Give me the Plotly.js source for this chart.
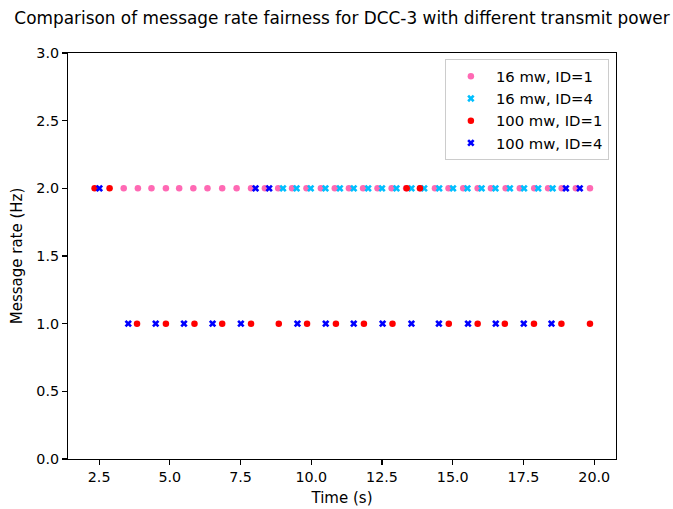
<!DOCTYPE html>
<html>
<head>
<meta charset="utf-8">
<script src="https://cdn.plot.ly/plotly-3.0.1.min.js"></script>
<style>html,body{margin:0;padding:0;background:#fff;}#chart{width:673px;height:509px;}</style>
</head>
<body>
<div id="chart"></div>
<script>
// 16 mw, ID=1 (time s, message rate Hz)
const p16id1Time = [3.37, 3.87, 4.35, 4.86, 5.33, 5.83, 6.33, 6.85, 7.36, 7.87, 8.36, 8.83, 9.32, 9.83, 10.34, 10.83, 11.33, 11.83, 12.34, 12.84, 13.35, 13.85, 14.37, 14.85, 15.37, 15.88, 16.35, 16.87, 17.37, 17.88, 18.37, 18.85, 19.35, 19.85];
const p16id1Rate = [2, 2, 2, 2, 2, 2, 2, 2, 2, 2, 2, 2, 2, 2, 2, 2, 2, 2, 2, 2, 2, 2, 2, 2, 2, 2, 2, 2, 2, 2, 2, 2, 2, 2];
// 16 mw, ID=4
const p16id4Time = [9.00, 9.48, 9.98, 10.50, 11.01, 11.50, 12.01, 12.50, 13.01, 13.54, 13.99, 14.52, 15.01, 15.52, 16.02, 16.51, 17.02, 17.52, 18.02, 18.53];
const p16id4Rate = [2, 2, 2, 2, 2, 2, 2, 2, 2, 2, 2, 2, 2, 2, 2, 2, 2, 2, 2, 2];
// 100 mw, ID=1
const p100id1Time = [2.34, 2.87, 3.84, 4.86, 5.87, 6.85, 7.87, 8.85, 9.85, 10.87, 11.86, 12.87, 13.37, 13.84, 14.86, 15.88, 16.84, 17.87, 18.84, 19.85];
const p100id1Rate = [2, 2, 1, 1, 1, 1, 1, 1, 1, 1, 1, 1, 2, 2, 1, 1, 1, 1, 1, 1];
// 100 mw, ID=4
const p100id4Time = [2.51, 3.53, 4.50, 5.50, 6.51, 7.51, 8.03, 8.51, 9.51, 10.51, 11.50, 12.52, 13.54, 14.51, 15.54, 16.52, 17.51, 18.49, 19.00, 19.49];
const p100id4Rate = [2, 1, 1, 1, 1, 1, 2, 2, 1, 1, 1, 1, 1, 1, 1, 1, 1, 1, 2, 2];

const seriesNames = ['16 mw, ID=1', '16 mw, ID=4', '100 mw, ID=1', '100 mw, ID=4'];
const xTicks = [2.5, 5.0, 7.5, 10.0, 12.5, 15.0, 17.5, 20.0];
const yTicks = [0.0, 0.5, 1.0, 1.5, 2.0, 2.5, 3.0];

const FONT = 'DejaVu Sans, sans-serif';
function mk(x, y, name, color, symbol, size) {
  return {x: x, y: y, name: name, type: 'scatter', mode: 'markers',
    marker: {color: color, symbol: symbol, size: size, line: {width: 0}}};
}
const data = [
  mk(p16id1Time, p16id1Rate, seriesNames[0], '#ff69b4', 'circle', 6.5),
  mk(p16id4Time, p16id4Rate, seriesNames[1], '#00bfff', 'x', 6.5),
  mk(p100id1Time, p100id1Rate, seriesNames[2], '#ff0000', 'circle', 6.5),
  mk(p100id4Time, p100id4Rate, seriesNames[3], '#0000ff', 'x', 6.5)
];
const axisCommon = {showline: true, mirror: true, linecolor: '#000', linewidth: 1.1,
  ticks: 'outside', ticklen: 5, tickwidth: 1.1, tickcolor: '#000', showgrid: false, zeroline: false,
  tickfont: {family: FONT, size: 14.3, color: '#000'}};
const layout = {
  width: 673, height: 509,
  margin: {l: 68, r: 57, t: 53, b: 50, pad: 0},
  paper_bgcolor: '#fff', plot_bgcolor: '#fff',
  font: {family: FONT, color: '#000'},
  title: {text: 'Comparison of message rate fairness for DCC-3 with different transmit power',
    font: {family: FONT, size: 16.9, color: '#000'}, xref: 'paper', x: 0.5, xanchor: 'center',
    yref: 'container', y: 1 - 18 / 509, yanchor: 'middle'},
  xaxis: Object.assign({}, axisCommon, {range: [1.40, 20.77], tickvals: xTicks, tickformat: '.1f',
    title: {text: 'Time (s)', font: {family: FONT, size: 15, color: '#000'}, standoff: 8}}),
  yaxis: Object.assign({}, axisCommon, {range: [0, 3], tickvals: yTicks, tickformat: '.1f',
    title: {text: 'Message rate (Hz)', font: {family: FONT, size: 15, color: '#000'}, standoff: 10}}),
  showlegend: true,
  legend: {x: 0.987, y: 0.985, xanchor: 'right', yanchor: 'top', bgcolor: 'rgba(255,255,255,0.8)',
    bordercolor: '#cccccc', borderwidth: 1, font: {family: FONT, size: 14.8, color: '#000'},
    itemwidth: 40}
};
Plotly.newPlot('chart', data, layout, {displayModeBar: false, staticPlot: true});
</script>
</body>
</html>
